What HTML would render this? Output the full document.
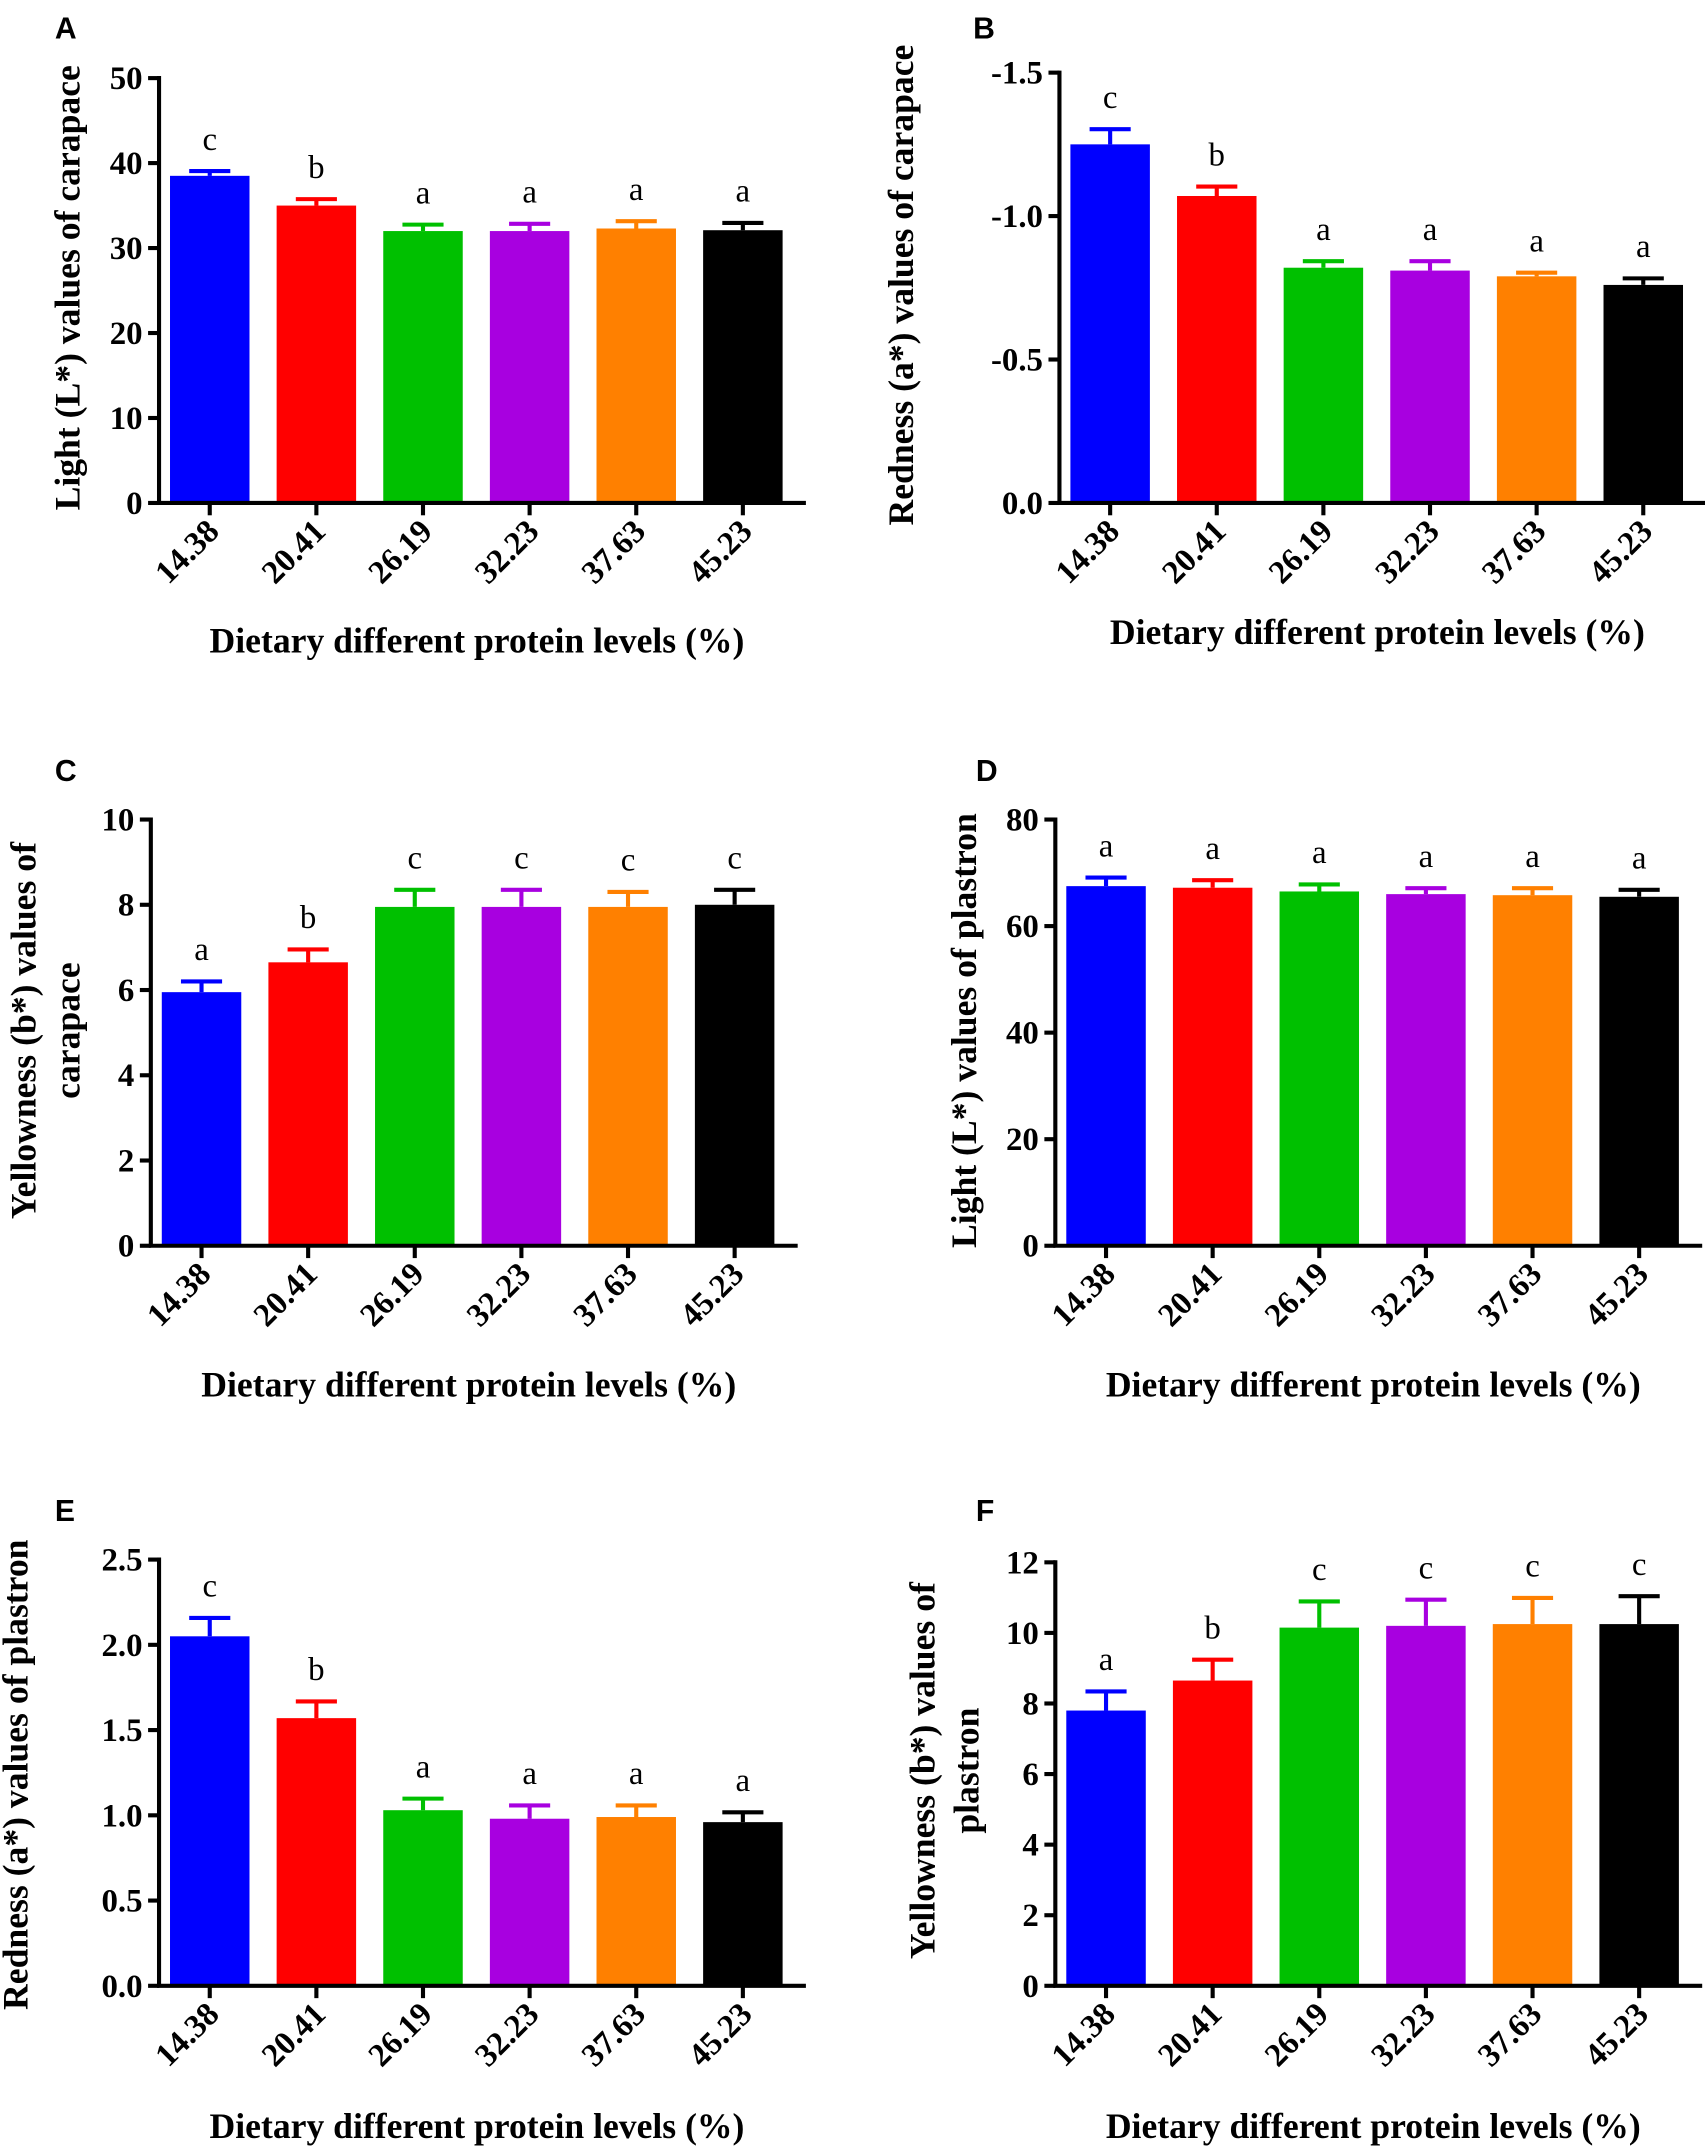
<!DOCTYPE html>
<html><head><meta charset="utf-8"><style>
html,body{margin:0;padding:0;background:#fff}
svg{display:block}
text{font-family:"Liberation Serif",serif}
.tick{font-weight:bold;font-size:24px}
.ttl{font-weight:bold;font-size:26px}
.let{font-size:24px}
.pl{font-family:"Liberation Sans",sans-serif;font-weight:bold;font-size:22px}
</style></head><body>
<svg id="fig" width="1705" height="2153" viewBox="0 0 1244 1571" xmlns="http://www.w3.org/2000/svg"></svg>
<script>
const categories=["14.38","20.41","26.19","32.23","37.63","45.23"];
const colors=["#0000ff","#ff0000","#00c000","#a800e0","#ff8000","#000000"];
const aVals=[38.5,35,32,32,32.3,32.1];
const aErr=[39.3,36,33,33.1,33.4,33.2];
const aLetters=["c","b","a","a","a","a"];
const bVals=[1.25,1.07,0.82,0.81,0.79,0.76];
const bErr=[1.31,1.11,0.85,0.85,0.81,0.79];
const bLetters=["c","b","a","a","a","a"];
const cVals=[5.95,6.65,7.95,7.95,7.95,8.0];
const cErr=[6.25,7.0,8.4,8.4,8.35,8.4];
const cLetters=["a","b","c","c","c","c"];
const dVals=[67.5,67.2,66.5,66,65.8,65.5];
const dErr=[69.5,69,68.2,67.5,67.5,67.2];
const dLetters=["a","a","a","a","a","a"];
const eVals=[2.05,1.57,1.03,0.98,0.99,0.96];
const eErr=[2.17,1.68,1.11,1.07,1.07,1.03];
const eLetters=["c","b","a","a","a","a"];
const fVals=[7.8,8.65,10.15,10.2,10.25,10.25];
const fErr=[8.4,9.3,10.95,11.0,11.05,11.1];
const fLetters=["a","b","c","c","c","c"];
const aTicks=[0,10,20,30,40,50];
const bTicks=[0,0.5,1.0,1.5];
const bTickLabels=["0.0","-0.5","-1.0","-1.5"];
const cTicks=[0,2,4,6,8,10];
const dTicks=[0,20,40,60,80];
const eTicks=[0,0.5,1.0,1.5,2.0,2.5];
const eTickLabels=["0.0","0.5","1.0","1.5","2.0","2.5"];
const fTicks=[0,2,4,6,8,10,12];

const svg=document.getElementById('fig');
const NS="http://www.w3.org/2000/svg";
function mk(tag,attrs,parent,txt){const e=document.createElementNS(NS,tag);for(const k in attrs)e.setAttribute(k,attrs[k]);if(txt!==undefined)e.textContent=txt;(parent||svg).appendChild(e);return e;}

function panel(p){
  const g=mk('g',{});
  
  
  const max=p.ticks[p.ticks.length-1];
  const y=v=>p.y0-(v/max)*(p.y0-p.yTop);
  const x=i=>p.ax+37+i*77.8;
  const pl=mk('text',{x:p.lx,y:p.ly,class:'pl'},g,p.id);
  
  
  p.vals.forEach((v,i)=>{
    const cx=x(i);
    const r=mk('rect',{x:cx-29,y:y(v),width:58,height:p.y0-y(v),fill:colors[i]},g);
    
    
    const eb=mk('path',{d:`M${cx} ${y(v)}V${y(p.err[i])}M${cx-15} ${y(p.err[i])+1.5}H${cx+15}`,stroke:colors[i],'stroke-width':3,fill:'none'},g);
    
    
    const lt=mk('text',{x:cx,y:y(p.err[i])-14,'text-anchor':'middle',class:'let'},g,p.letters[i]);
    
    
    const tk=mk('line',{x1:cx,x2:cx,y1:p.y0,y2:p.y0+9,stroke:'#000','stroke-width':3},g);
    
    
    const tl=mk('text',{x:0,y:0,'text-anchor':'end',class:'tick',transform:`translate(${cx+8},${p.y0+22}) rotate(-45)`},g,categories[i]);
    
    
  });
  const axis=mk('path',{d:`M${p.ax} ${p.yTop-1.5}V${p.y0}H${p.ax+472}`,stroke:'#000','stroke-width':3,fill:'none'},g);
  
  
  p.ticks.forEach((t,i)=>{
    const yt=mk('line',{x1:p.ax-8,x2:p.ax,y1:y(t),y2:y(t),stroke:'#000','stroke-width':3},g);
    
    
    const lab=p.tickLabels?p.tickLabels[i]:String(t);
    const tt=mk('text',{x:p.ax-12,y:y(t)+8,'text-anchor':'end',class:'tick'},g,lab);
    
    
  });
  const xt=mk('text',{x:p.ax+232,y:p.xty,'text-anchor':'middle',class:'ttl'},g,'Dietary different protein levels (%)');
  
  
  p.ytitle.forEach((line,k)=>{
    const yy=mk('text',{x:0,y:0,'text-anchor':'middle',class:'ttl',transform:`translate(${p.ytx+k*32},${p.yty}) rotate(-90)`},g,line);
    
    
  });
}
panel({id:'A',lx:40,ly:28,ax:116,yTop:57,y0:367,ticks:aTicks,vals:aVals,err:aErr,letters:aLetters,xty:476,ytx:58,yty:210,ytitle:["Light (L*) values of carapace"]});
panel({id:'B',lx:710,ly:28,ax:773,yTop:53,y0:367,ticks:bTicks,tickLabels:bTickLabels,vals:bVals,err:bErr,letters:bLetters,xty:470,ytx:666,yty:208,ytitle:["Redness (a*) values of carapace"]});
panel({id:'C',lx:40,ly:570,ax:110,yTop:598,y0:909,ticks:cTicks,vals:cVals,err:cErr,letters:cLetters,xty:1019,ytx:26,yty:752,ytitle:["Yellowness (b*) values of","carapace"]});
panel({id:'D',lx:712,ly:570,ax:770,yTop:598,y0:909,ticks:dTicks,vals:dVals,err:dErr,letters:dLetters,xty:1019,ytx:712,yty:752,ytitle:["Light (L*) values of plastron"]});
panel({id:'E',lx:40,ly:1110,ax:116,yTop:1138,y0:1449,ticks:eTicks,tickLabels:eTickLabels,vals:eVals,err:eErr,letters:eLetters,xty:1560,ytx:20,yty:1295,ytitle:["Redness (a*) values of plastron"]});
panel({id:'F',lx:712,ly:1110,ax:770,yTop:1140,y0:1449,ticks:fTicks,vals:fVals,err:fErr,letters:fLetters,xty:1560,ytx:682,yty:1292,ytitle:["Yellowness (b*) values of","plastron"]});
</script>
</body></html>
